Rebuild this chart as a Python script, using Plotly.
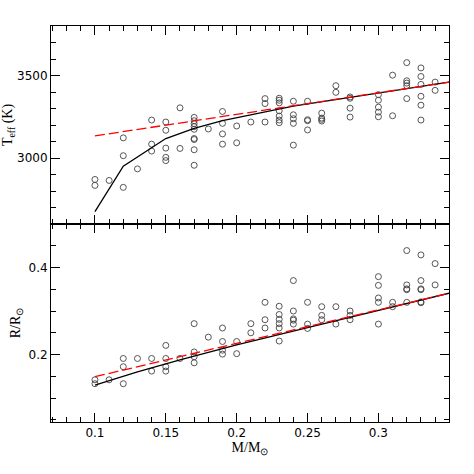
import plotly.graph_objects as go

# ---- data: top panel (Teff) ----
teff_mass = [0.10, 0.10, 0.11, 0.12, 0.12, 0.12, 0.13, 0.14, 0.14, 0.14,
             0.15, 0.15, 0.15, 0.15, 0.15, 0.16, 0.16,
             0.17, 0.17, 0.17, 0.17, 0.17, 0.17, 0.17, 0.17, 0.17,
             0.18, 0.19, 0.19, 0.19, 0.19, 0.20, 0.20, 0.21,
             0.22, 0.22, 0.22,
             0.23, 0.23, 0.23, 0.23, 0.23, 0.23, 0.23,
             0.24, 0.24, 0.24, 0.24, 0.24,
             0.25, 0.25, 0.25, 0.25,
             0.26, 0.26, 0.26, 0.26,
             0.27, 0.27,
             0.28, 0.28, 0.28, 0.28,
             0.30, 0.30, 0.30, 0.30, 0.30,
             0.31, 0.31,
             0.32, 0.32, 0.32, 0.32, 0.32,
             0.33, 0.33, 0.33, 0.33, 0.33, 0.33,
             0.34, 0.34]
teff_obs = [2870, 2834, 2864, 3122, 3014, 2822, 2934, 3230, 3084, 3042,
            3218, 3168, 3060, 3004, 2984, 3304, 3058,
            3246, 3226, 3208, 3190, 3174, 3118, 3112, 3050, 2956,
            3176, 3282, 3210, 3146, 3084, 3194, 3092, 3218,
            3360, 3330, 3218,
            3362, 3350, 3334, 3286, 3254, 3230, 3214,
            3344, 3262, 3238, 3210, 3078,
            3344, 3232, 3226, 3170,
            3272, 3242, 3234, 3224,
            3438, 3398,
            3370, 3362, 3302, 3248,
            3384, 3350, 3308, 3278, 3250,
            3502, 3256,
            3578, 3468, 3454, 3438, 3360,
            3546, 3494, 3446, 3374, 3320, 3230,
            3460, 3410]

# model curves (top)
teff_model1_mass = [0.10, 0.12, 0.15, 0.17, 0.19, 0.21, 0.24, 0.35]
teff_model1 = [2675, 2950, 3118, 3180, 3226, 3262, 3314, 3460]
teff_model2_mass = [0.10, 0.35]
teff_model2 = [3134, 3460]

# ---- data: bottom panel (radius) ----
rad_mass = [0.10, 0.10, 0.11, 0.12, 0.12, 0.12, 0.13, 0.14, 0.14,
            0.15, 0.15, 0.15, 0.15, 0.16,
            0.17, 0.17, 0.17, 0.17, 0.18,
            0.19, 0.19, 0.19, 0.19, 0.20, 0.20, 0.21, 0.21,
            0.22, 0.22, 0.22,
            0.23, 0.23, 0.23, 0.23, 0.23, 0.23,
            0.24, 0.24, 0.24, 0.24, 0.24,
            0.25, 0.25, 0.25,
            0.26, 0.26, 0.26,
            0.27, 0.27,
            0.28, 0.28, 0.28,
            0.30, 0.30, 0.30, 0.30, 0.30,
            0.31, 0.31,
            0.32, 0.32, 0.32, 0.32, 0.32,
            0.33, 0.33, 0.33, 0.33, 0.33, 0.33,
            0.34, 0.34]
rad_obs = [0.142, 0.133, 0.142, 0.191, 0.172, 0.133, 0.191, 0.191, 0.162,
           0.221, 0.191, 0.172, 0.162, 0.191,
           0.271, 0.206, 0.195, 0.181, 0.240,
           0.261, 0.230, 0.210, 0.201, 0.230, 0.202, 0.271, 0.250,
           0.320, 0.280, 0.261,
           0.311, 0.292, 0.281, 0.271, 0.261, 0.231,
           0.370, 0.300, 0.282, 0.279, 0.270,
           0.320, 0.270, 0.260,
           0.310, 0.290, 0.280,
           0.310, 0.270,
           0.300, 0.290, 0.280,
           0.379, 0.359, 0.330, 0.320, 0.270,
           0.320, 0.310,
           0.439, 0.360, 0.351, 0.349, 0.320,
           0.429, 0.370, 0.351, 0.349, 0.321, 0.319,
           0.409, 0.360]

rad_model1_mass = [0.10, 0.13, 0.16, 0.20, 0.25, 0.30, 0.35]
rad_model1 = [0.130, 0.160, 0.188, 0.222, 0.262, 0.302, 0.341]
rad_model2_mass = [0.10, 0.35]
rad_model2 = [0.149, 0.341]

# ---- figure ----
fig = go.Figure()

marker = dict(symbol="circle-open", size=6, color="#444444", line=dict(width=0.9, color="#444444"))

fig.add_trace(go.Scatter(x=teff_mass, y=teff_obs, mode="markers", marker=marker,
                         xaxis="x2", yaxis="y2", showlegend=False))
fig.add_trace(go.Scatter(x=teff_model1_mass, y=teff_model1, mode="lines",
                         line=dict(color="black", width=1.3), xaxis="x2", yaxis="y2", showlegend=False))
fig.add_trace(go.Scatter(x=teff_model2_mass, y=teff_model2, mode="lines",
                         line=dict(color="red", width=1.3, dash="10px,4px"), xaxis="x2", yaxis="y2",
                         showlegend=False))

fig.add_trace(go.Scatter(x=rad_mass, y=rad_obs, mode="markers", marker=marker,
                         xaxis="x", yaxis="y", showlegend=False))
fig.add_trace(go.Scatter(x=rad_model1_mass, y=rad_model1, mode="lines",
                         line=dict(color="black", width=1.3), xaxis="x", yaxis="y", showlegend=False))
fig.add_trace(go.Scatter(x=rad_model2_mass, y=rad_model2, mode="lines",
                         line=dict(color="red", width=1.3, dash="10px,4px"), xaxis="x", yaxis="y",
                         showlegend=False))

tickfont = dict(family="DejaVu Sans", size=12, color="black")
titlefont = dict(family="Liberation Serif", size=14, color="black")

common_x = dict(range=[0.069, 0.3498], tick0=0.1, dtick=0.05, ticks="inside", ticklen=9,
                tickcolor="black", showline=True, linecolor="black", linewidth=1,
                mirror="allticks", showgrid=False, zeroline=False, automargin=False,
                tickformat="~g",
                minor=dict(ticks="inside", ticklen=5, dtick=0.01, tick0=0.1, tickcolor="black", showgrid=False))

fig.update_layout(
    width=474, height=474,
    margin=dict(l=51, r=25, t=26, b=52),
    paper_bgcolor="white", plot_bgcolor="white",
    xaxis=dict(**common_x, anchor="y", domain=[0, 1], tickfont=tickfont,
               title=dict(text="M/M<sub>⊙</sub>", font=titlefont, standoff=2)),
    yaxis=dict(range=[0.045, 0.5], domain=[0, 0.5], anchor="x", tick0=0.2, dtick=0.2,
               ticks="inside", ticklen=9, tickcolor="black", showline=True, linecolor="black",
               linewidth=1, mirror="allticks", showgrid=False, zeroline=False, automargin=False,
               tickfont=tickfont, tickformat="~g",
               minor=dict(ticks="inside", ticklen=5, dtick=0.05, tick0=0.2, tickcolor="black", showgrid=False),
               title=dict(text="R/R<sub>⊙</sub>", font=titlefont, standoff=4)),
    xaxis2=dict(**common_x, anchor="y2", domain=[0, 1], showticklabels=False, matches="x"),
    yaxis2=dict(range=[2600, 3800], domain=[0.5, 1], anchor="x2", tick0=3000, dtick=500,
                ticks="inside", ticklen=9, tickcolor="black", showline=True, linecolor="black",
                linewidth=1, mirror="allticks", showgrid=False, zeroline=False, automargin=False,
                tickfont=tickfont,
                minor=dict(ticks="inside", ticklen=5, dtick=100, tick0=3000, tickcolor="black", showgrid=False),
                title=dict(text="T<sub>eff</sub> (K)", font=titlefont, standoff=2)),
)

fig.write_html("out.html", config={"displayModeBar": False},
               post_script="document.body.style.margin='0px';")
